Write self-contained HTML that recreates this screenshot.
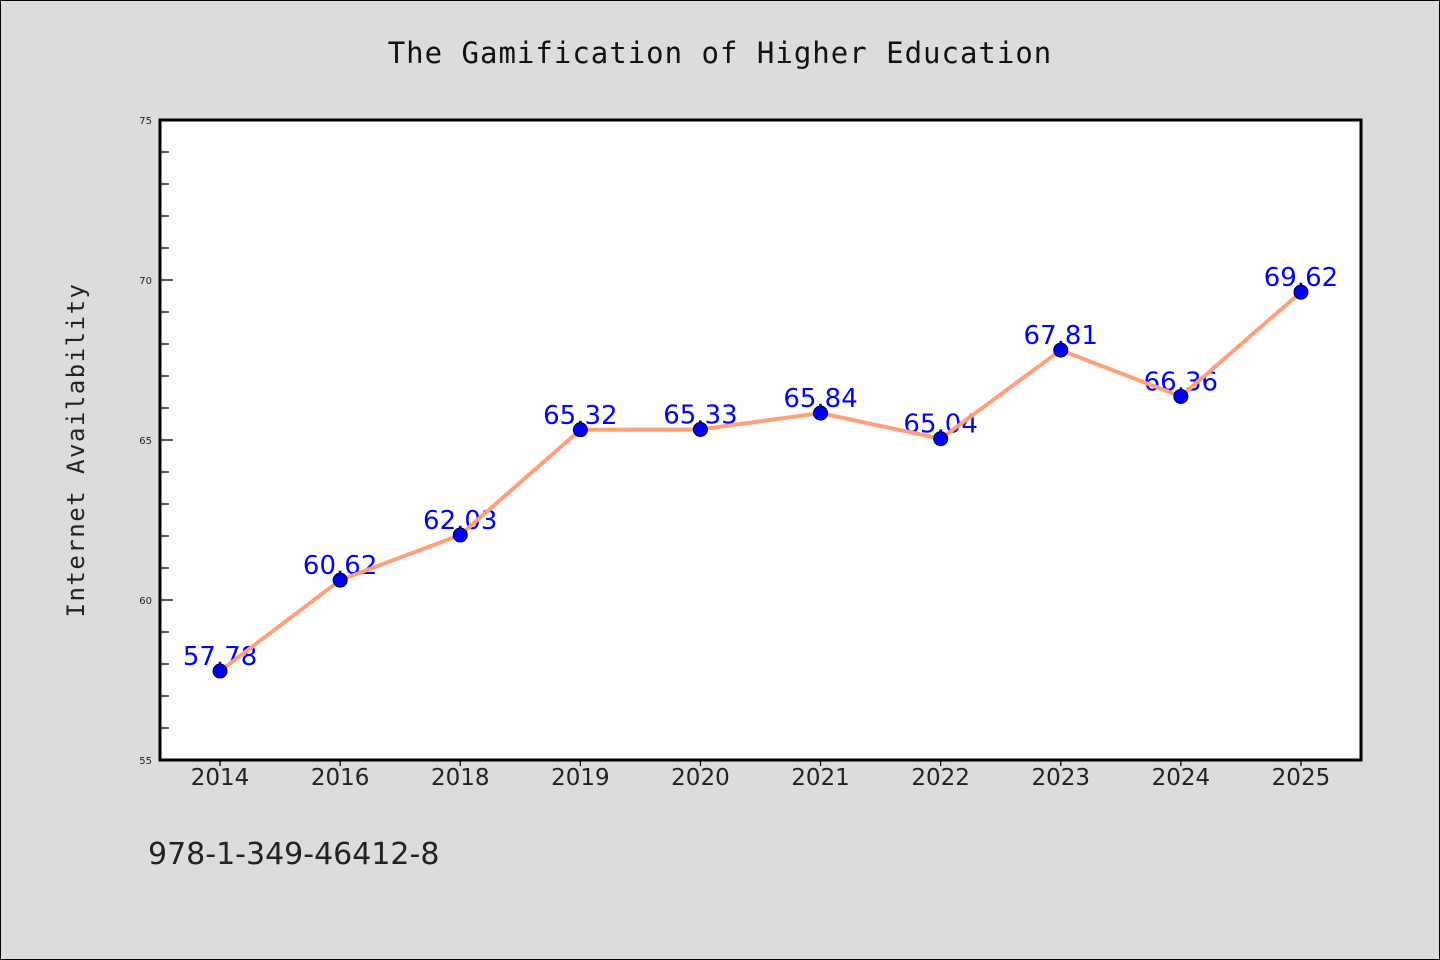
<!DOCTYPE html>
<html><head><meta charset="utf-8"><style>
body{margin:0;background:#dcdcdc;}
svg{display:block}
</style></head><body>
<svg width="1440" height="960" xmlns="http://www.w3.org/2000/svg">
<rect x="0.5" y="0.5" width="1439" height="959" fill="#dcdcdc" stroke="#000" stroke-width="1"/>
<text x="720" y="63" text-anchor="middle" font-family="DejaVu Sans Mono, Liberation Mono, monospace" font-size="29" letter-spacing="1" fill="#111">The Gamification of Higher Education</text>
<rect x="160" y="120" width="1201" height="640" fill="#fff"/>
<g id="ticks"></g>
<g id="labels"></g>
<g id="series"></g>
<rect x="160" y="120" width="1201" height="640" fill="none" stroke="#000" stroke-width="3"/>
<text transform="translate(84,450) rotate(-90)" text-anchor="middle" font-family="DejaVu Sans Mono, Liberation Mono, monospace" font-size="24" letter-spacing="1.5" fill="#222">Internet Availability</text>
<text x="148" y="864" font-family="DejaVu Sans, Liberation Sans, sans-serif" font-size="30" fill="#222">978-1-349-46412-8</text>
</svg>
<script>
const categories=["2014","2016","2018","2019","2020","2021","2022","2023","2024","2025"];
const values=[57.78,60.62,62.03,65.32,65.33,65.84,65.04,67.81,66.36,69.62];
const yTicks=[55,60,65,70,75];
const NS="http://www.w3.org/2000/svg";
const L=160,R=1361,T=120,B=760,yMin=55,yMax=75;
const step=(R-L)/categories.length;
const x=i=>L+step*(i+0.5);
const y=v=>B-(v-yMin)/(yMax-yMin)*(B-T);
function mk(tag,attrs,parent){const e=document.createElementNS(NS,tag);for(const k in attrs)e.setAttribute(k,attrs[k]);parent.appendChild(e);return e;}
const tg=document.getElementById('ticks'),lg=document.getElementById('labels'),sg=document.getElementById('series');
for(let v=yMin;v<=yMax;v++){const major=yTicks.includes(v);
 const t=mk('line',{x1:L,x2:L+(major?13:9),y1:y(v),y2:y(v),stroke:'#000','stroke-width':1.3},tg);
 
 }
yTicks.forEach(v=>{const t=mk('text',{x:152,y:y(v)+4,'text-anchor':'end','font-family':'DejaVu Sans, sans-serif','font-size':10,fill:'#222'},tg);t.textContent=v;
 
 });
categories.forEach((c,i)=>{const t=mk('line',{x1:x(i),x2:x(i),y1:B,y2:B+6,stroke:'#000','stroke-width':1.3},tg);
 
 
 const l=mk('text',{x:x(i),y:B+25,'text-anchor':'middle','font-family':'DejaVu Sans, sans-serif','font-size':23,fill:'#222'},tg);l.textContent=c;
 
 });
values.forEach((v,i)=>{const t=mk('text',{x:x(i),y:y(v)-6,'text-anchor':'middle','font-family':'DejaVu Sans, sans-serif','font-size':26,fill:'#0000ff'},lg);t.textContent=v.toFixed(2);
 
 });
const p=mk('polyline',{points:values.map((v,i)=>x(i)+','+y(v)).join(' '),fill:'none',stroke:'#ffa07a','stroke-width':4,'stroke-linejoin':'round'},sg);


values.forEach((v,i)=>{const c=mk('circle',{cx:x(i),cy:y(v),r:7,fill:'#0000ff',stroke:'#000','stroke-width':1},sg);
 
 });
</script>
</body></html>
